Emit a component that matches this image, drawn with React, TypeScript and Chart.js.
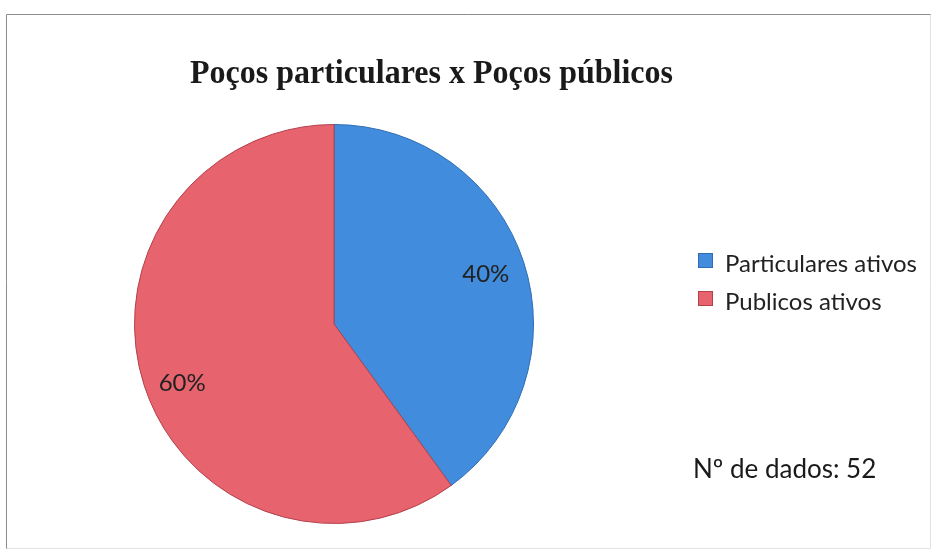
import React, { useEffect, useRef } from "react";
import { Chart, registerables } from "chart.js";

Chart.register(...registerables);

const labels = ["Particulares ativos", "Publicos ativos"];
const values = [40, 60];
const fillColors = ["#428CDD", "#E7646F"];
const edgeColors = ["#2E6DB4", "#B3404B"];
const titleText = "Poços particulares x Poços públicos";
const noteText = "Nº de dados: 52";

const overlay = {
  id: "overlay",
  afterDraw(chart: any) {
    const ctx = chart.ctx as CanvasRenderingContext2D;
    ctx.save();

    // frame
    ctx.strokeStyle = "#8c8c8c";
    ctx.lineWidth = 1;
    ctx.beginPath();
    ctx.moveTo(6.5, 549);
    ctx.lineTo(6.5, 14.5);
    ctx.lineTo(931, 14.5);
    ctx.stroke();
    ctx.strokeStyle = "#e2e2e2";
    ctx.beginPath();
    ctx.moveTo(930.5, 14.5);
    ctx.lineTo(930.5, 548.5);
    ctx.lineTo(6.5, 548.5);
    ctx.stroke();

    // title (condensed bold serif)
    ctx.fillStyle = "#1a1a1a";
    ctx.font = "bold 33px 'Liberation Serif', 'DejaVu Serif', serif";
    ctx.textBaseline = "alphabetic";
    ctx.textAlign = "left";
    const tw = ctx.measureText(titleText).width;
    const targetW = 483;
    ctx.save();
    ctx.translate(190, 83);
    ctx.scale(targetW / tw, 1);
    ctx.fillText(titleText, 0, 0);
    ctx.restore();

    // percentage labels on slices
    const meta = chart.getDatasetMeta(0);
    const data = chart.data.datasets[0].data as number[];
    const total = data.reduce((a, b) => a + b, 0);
    ctx.font = "24px Lato, 'Open Sans', sans-serif";
    ctx.fillStyle = "#222";
    ctx.textAlign = "center";
    ctx.textBaseline = "middle";
    meta.data.forEach((arc: any, i: number) => {
      const p = arc.getProps(["x", "y", "startAngle", "endAngle", "outerRadius"], true);
      const mid = (p.startAngle + p.endAngle) / 2;
      const r = p.outerRadius * 0.8;
      const x = p.x + Math.cos(mid) * r;
      const y = p.y + Math.sin(mid) * r + (i === 1 ? 10 : 0);
      ctx.fillText(Math.round((data[i] / total) * 100) + "%", x, y);
    });

    // legend
    const legendX = 698;
    const baselines = [272, 310];
    ctx.textAlign = "left";
    ctx.textBaseline = "alphabetic";
    ctx.font = "24px Lato, 'Open Sans', sans-serif";
    (chart.data.labels as string[]).forEach((lab, i) => {
      const by = baselines[i];
      ctx.fillStyle = fillColors[i];
      ctx.fillRect(legendX, by - 19, 15, 15);
      ctx.strokeStyle = edgeColors[i];
      ctx.lineWidth = 1;
      ctx.strokeRect(legendX + 0.5, by - 18.5, 14, 14);
      ctx.fillStyle = "#222";
      ctx.fillText(lab, legendX + 27, by);
    });

    // note
    ctx.font = "26px Lato, 'Open Sans', sans-serif";
    ctx.fillStyle = "#1a1a1a";
    ctx.fillText(noteText, 693, 478);

    ctx.restore();
  },
};

export default function App() {
  const ref = useRef<HTMLCanvasElement | null>(null);
  useEffect(() => {
    document.body.style.margin = "0";
    const canvas = ref.current!;
    const chart = new Chart(canvas, {
      type: "pie",
      data: {
        labels,
        datasets: [
          {
            data: values,
            backgroundColor: fillColors,
            borderColor: edgeColors,
            borderWidth: 1,
          },
        ],
      },
      options: {
        responsive: false,
        animation: false,
        devicePixelRatio: 1,
        layout: { padding: { left: 133, right: 401, top: 124, bottom: 28 } },
        plugins: {
          legend: { display: false },
          title: { display: false },
          tooltip: { enabled: false },
        },
      },
      plugins: [overlay],
    });
    return () => chart.destroy();
  }, []);
  return (
    <div style={{ position: "absolute", left: 0, top: 0, width: 936, height: 552, background: "#fff" }}>
      <canvas ref={ref} width={936} height={552} style={{ width: 936, height: 552, display: "block" }} />
    </div>
  );
}
